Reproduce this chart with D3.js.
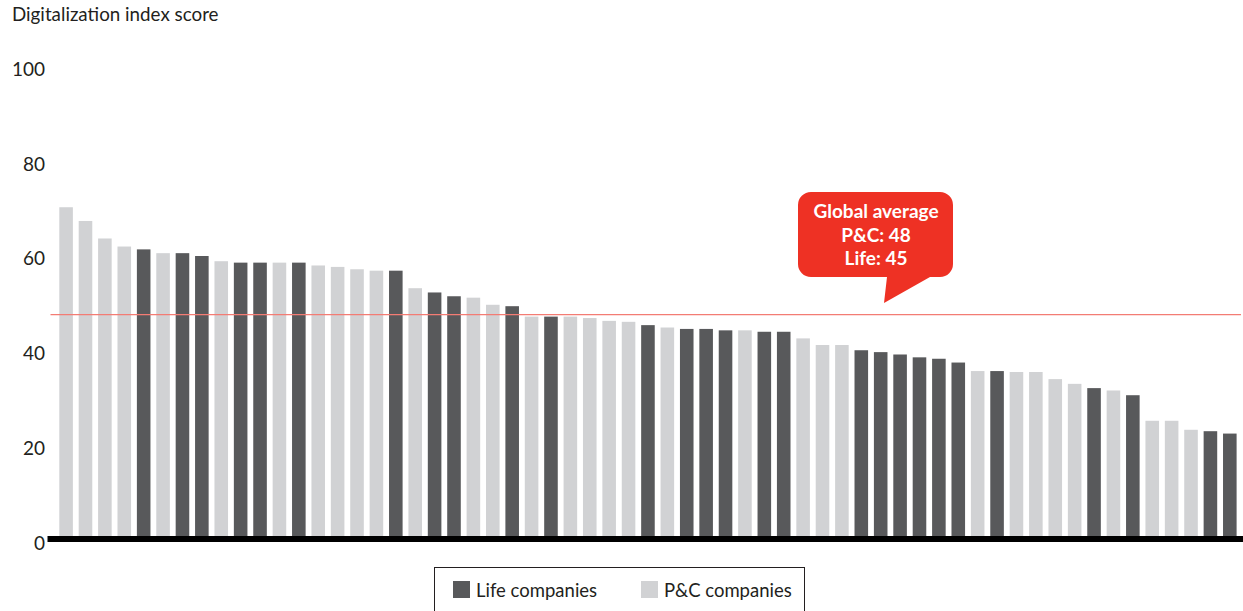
<!DOCTYPE html>
<html>
<head>
<meta charset="utf-8">
<script src="https://cdn.jsdelivr.net/npm/d3@7"></script>
<style>
  html, body { margin: 0; padding: 0; background: #fff; }
  svg { display: block; }
  text { font-family: Lato, "Noto Sans", sans-serif; }
</style>
</head>
<body>
<script>
// ---- data ----
const companyIndex = d3.range(1, 62);
const companyType = [
  "P","P","P","P","L","P","L","L","P","L",
  "L","P","L","P","P","P","P","L","P","L",
  "L","P","P","L","P","L","P","P","P","P",
  "L","P","L","L","L","P","L","L","P","P",
  "P","L","L","L","L","L","L","P","L","P",
  "P","P","P","L","P","L","P","P","P","L",
  "L"
];
const scores = [
  70.7,67.8,64.1,62.4,61.8,61.0,61.0,60.4,59.3,59.0,
  59.0,59.0,59.0,58.4,58.1,57.6,57.3,57.3,53.6,52.7,
  51.9,51.6,50.1,49.8,47.6,47.6,47.6,47.3,46.7,46.5,
  45.8,45.3,45.0,45.0,44.7,44.7,44.4,44.4,43.0,41.6,
  41.6,40.5,40.1,39.6,39.0,38.7,37.9,36.1,36.1,35.9,
  35.9,34.4,33.4,32.5,32.0,31.0,25.6,25.6,23.7,23.4,
  22.9
];
const yTicks = [0, 20, 40, 60, 80, 100];
const globalAverage = 48;
const calloutLines = ["Global average", "P&C: 48", "Life: 45"];
const legendItems = [
  {key: "L", label: "Life companies"},
  {key: "P", label: "P&C companies"}
];
const axisTitle = "Digitalization index score";

// ---- layout ----
const W = 1243, H = 611;
const colors = {L: "#58595b", P: "#d1d2d4"};

const svg = d3.select("body").append("svg").attr("width", W).attr("height", H);

const x = d3.scaleBand().domain(companyIndex).range([59.3, 1236.6]).paddingInner(0.3).paddingOuter(0);
const y = d3.scaleLinear().domain([0, 100]).range([542, 68.5]);

// axis title
svg.append("text").attr("x", 12).attr("y", 21)
  .attr("font-size", 18.8).attr("fill", "#231f20").text(axisTitle);

// y tick labels
const yAxis = d3.axisLeft(y).tickValues(yTicks).tickSize(0).tickPadding(0);
const gy = svg.append("g").attr("transform", "translate(45,1)").call(yAxis);
gy.select(".domain").remove();
gy.selectAll("text").attr("font-size", 19).attr("fill", "#231f20")
  .attr("font-family", "Lato, 'Noto Sans', sans-serif");

// bars
svg.append("g").selectAll("rect").data(scores).join("rect")
  .attr("x", (d, i) => x(companyIndex[i]))
  .attr("width", x.bandwidth())
  .attr("y", d => y(d))
  .attr("height", d => y(0) - y(d))
  .attr("fill", (d, i) => colors[companyType[i]]);

// baseline
svg.append("line").attr("x1", 47.5).attr("x2", W).attr("y1", y(0) - 3).attr("y2", y(0) - 3)
  .attr("stroke", "#000").attr("stroke-width", 6);

// average line
svg.append("line").attr("x1", 50.5).attr("x2", 1241)
  .attr("y1", y(globalAverage)).attr("y2", y(globalAverage))
  .attr("stroke", "#f37c74").attr("stroke-width", 1.3);

// callout bubble
const bx0 = 798, bx1 = 953, by0 = 192, by1 = 277, r = 13;
const bubble = d3.path();
bubble.moveTo(bx0 + r, by0);
bubble.lineTo(bx1 - r, by0);
bubble.arcTo(bx1, by0, bx1, by0 + r, r);
bubble.lineTo(bx1, by1 - r);
bubble.arcTo(bx1, by1, bx1 - r, by1, r);
bubble.lineTo(930, by1);
bubble.lineTo(884, 303);
bubble.lineTo(887, by1);
bubble.lineTo(bx0 + r, by1);
bubble.arcTo(bx0, by1, bx0, by1 - r, r);
bubble.lineTo(bx0, by0 + r);
bubble.arcTo(bx0, by0, bx0 + r, by0, r);
bubble.closePath();
svg.append("path").attr("d", bubble.toString()).attr("fill", "#ee3124");

svg.append("g").selectAll("text").data(calloutLines).join("text")
  .attr("x", 876).attr("y", (d, i) => 218 + i * 23.5)
  .attr("text-anchor", "middle").attr("font-size", 19).attr("font-weight", 700)
  .attr("fill", "#fff").text(d => d);

// legend
svg.append("rect").attr("x", 434.5).attr("y", 567.5).attr("width", 370).attr("height", 60)
  .attr("fill", "none").attr("stroke", "#231f20").attr("stroke-width", 1);
const lx = [453, 641];
const lg = svg.append("g").selectAll("g").data(legendItems).join("g")
  .attr("transform", (d, i) => `translate(${lx[i]},581)`);
lg.append("rect").attr("width", 17).attr("height", 17).attr("fill", d => colors[d.key]);
lg.append("text").attr("x", 23).attr("y", 15.5).attr("font-size", 18.5).attr("fill", "#231f20").text(d => d.label);
</script>
</body>
</html>
